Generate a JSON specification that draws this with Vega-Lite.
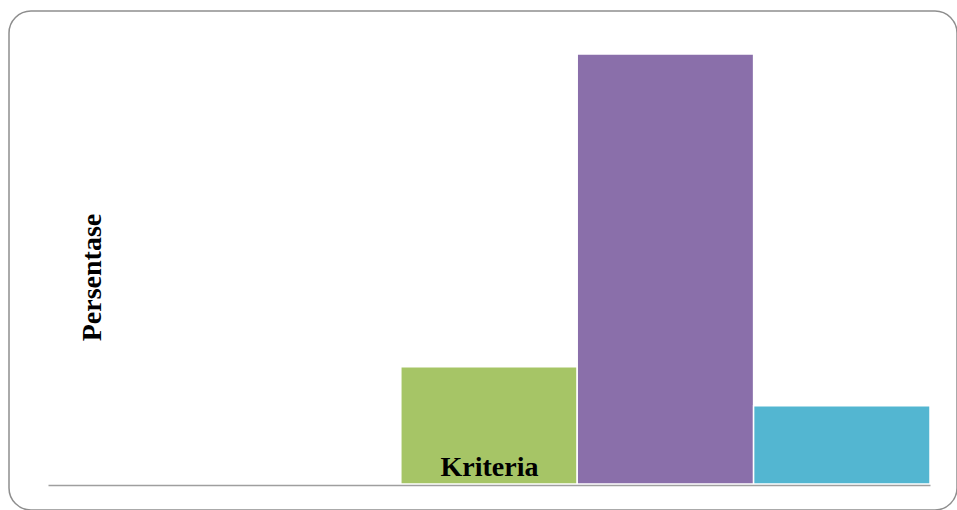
{
  "$schema": "https://vega.github.io/schema/vega-lite/v6.json",
  "width": 948,
  "height": 499,
  "autosize": {"type": "none"},
  "padding": {"left": 9, "top": 11, "right": 0, "bottom": 0},
  "background": "white",
  "view": {"stroke": "#8e8e8e", "strokeWidth": 1.5, "cornerRadius": 22, "fill": "white"},
  "data": {
    "values": [
      {"Kriteria": "Sangat Kurang", "Persentase": 0},
      {"Kriteria": "Kurang", "Persentase": 0},
      {"Kriteria": "Cukup", "Persentase": 18.75},
      {"Kriteria": "Baik", "Persentase": 68.75},
      {"Kriteria": "Sangat Baik", "Persentase": 12.5}
    ]
  },
  "mark": {"type": "bar", "stroke": "white", "strokeWidth": 1.5},
  "encoding": {
    "x": {
      "field": "Kriteria",
      "type": "nominal",
      "sort": null,
      "scale": {"range": [39, 921], "paddingInner": 0, "paddingOuter": 0},
      "axis": {
        "title": "Kriteria",
        "labels": false,
        "ticks": false,
        "domainColor": "#9f9f9f",
        "domainWidth": 1.5,
        "offset": -25,
        "zindex": 1,
        "titleX": 480,
        "titleY": -10,
        "titleBaseline": "alphabetic",
        "titleAlign": "center",
        "titleFont": "Liberation Serif",
        "titleFontWeight": "bold",
        "titleFontSize": 28,
        "titleColor": "black"
      }
    },
    "y": {
      "field": "Persentase",
      "type": "quantitative",
      "scale": {"domain": [0, 68.75], "range": [473, 43], "nice": false, "zero": true},
      "axis": {
        "title": "Persentase",
        "labels": false,
        "ticks": false,
        "domain": false,
        "grid": false,
        "titleAngle": -90,
        "titleX": 83,
        "titleY": 266,
        "titleBaseline": "middle",
        "titleAlign": "center",
        "titleFont": "Liberation Serif",
        "titleFontWeight": "bold",
        "titleFontSize": 28,
        "titleColor": "black"
      }
    },
    "color": {
      "field": "Kriteria",
      "type": "nominal",
      "scale": {
        "domain": ["Sangat Kurang", "Kurang", "Cukup", "Baik", "Sangat Baik"],
        "range": ["#4F81BD", "#C0504D", "#A6C566", "#8A6FAA", "#53B6D1"]
      },
      "legend": null
    }
  }
}
